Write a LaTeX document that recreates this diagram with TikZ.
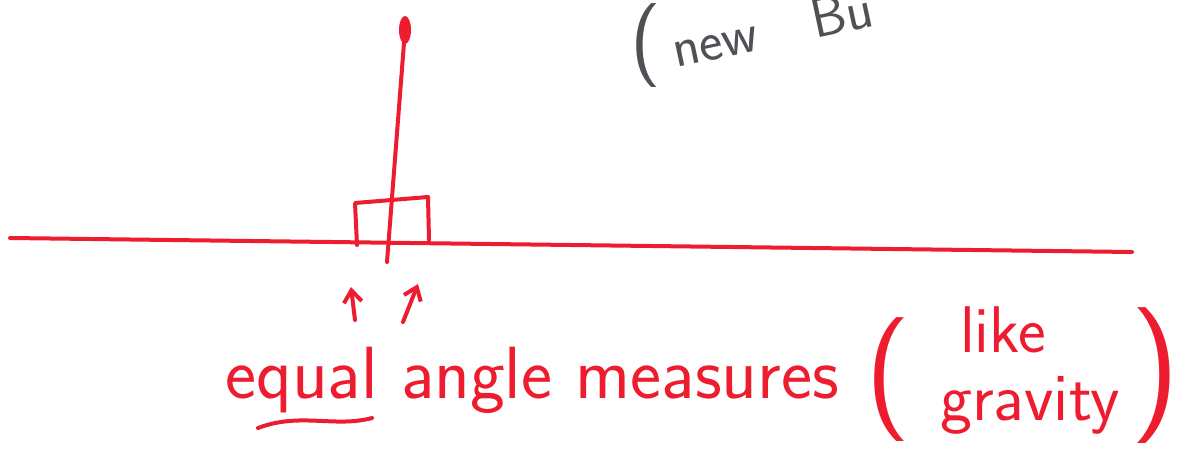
\documentclass[tikz,border=0pt]{standalone}
\usepackage{tikz}
\usetikzlibrary{arrows.meta, positioning}
\definecolor{marker}{RGB}{237,28,46}
\definecolor{pencil}{RGB}{80,80,86}

\begin{document}
\begin{tikzpicture}[x=0.5pt, y=-0.5pt,
  pen/.style={draw=marker, line width=2pt, line cap=round, line join=round},
  script/.style={text=marker, font=\sffamily\fontsize{30}{34}\selectfont, inner sep=0pt},
  note/.style={text=pencil, font=\sffamily\fontsize{28}{32}\selectfont, inner sep=0pt}]
\useasboundingbox (0,0) rectangle (1177,455);
\clip (0,0) rectangle (1177,455);
% ground line
\coordinate (gl) at (10,238);
\coordinate (gr) at (1132,252);
\draw[pen] (gl) -- (gr);
% pole
\coordinate (foot) at (387,262);
\coordinate (tip) at (405,30);
\draw[pen] (foot) -- (tip);
\fill[marker] (tip) ellipse (3pt and 7pt);
% right angle marks
\draw[pen] (357,245) -- (355,203) -- (428,197) -- (429,240);
% arrows to the two angles
\coordinate (al) at (351,287);
\coordinate (ar) at (418,284);
\coordinate (tl) at (355,320);
\coordinate (tr) at (403,322);
\draw[pen, -{Straight Barb[length=6pt, width=9pt]}] (tl) -- (al);
\draw[pen, -{Straight Barb[length=6pt, width=9pt]}] (tr) -- (ar);
% label
\node[script, font=\sffamily\fontsize{37}{40}\selectfont, anchor=base west] (eq) at (225,398) {equal angle measures};
\draw[pen] (258,428) .. controls (300,412) and (335,428) .. (372,418);
\node[script, font=\sffamily\fontsize{62}{64}\selectfont, anchor=center] (lp) at (888,380) {(};
\node[script, font=\sffamily\fontsize{33}{36}\selectfont, anchor=base] (like) at (1003,352) {like};
\node[script, font=\sffamily\fontsize{34}{36}\selectfont, anchor=base] (grav) at (1030,420) {gravity};
\node[script, font=\sffamily\fontsize{68}{70}\selectfont, anchor=center] (rp) at (1155,376) {)};
% pencil note, cut off at the top
\node[note, font=\sffamily\fontsize{42}{44}\selectfont, anchor=center] (np) at (646,46) {(};
\node[note, anchor=base west, rotate=12] (nb) at (676,68) {new\hspace{28pt}Bu};
\end{tikzpicture}
\end{document}
